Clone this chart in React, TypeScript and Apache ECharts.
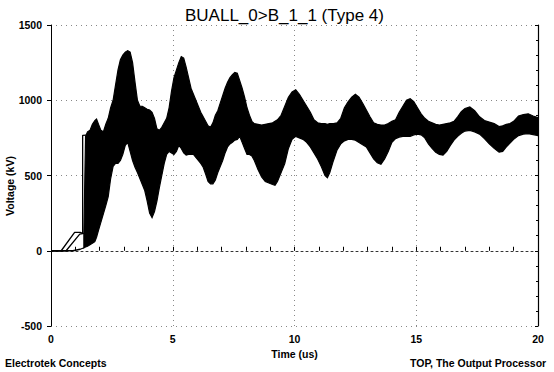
import React, { useEffect, useRef } from "react";
import * as echarts from "echarts";

const FONT = "'Liberation Sans', Arial, Helvetica, sans-serif";

const titleText = "BUALL_0>B_1_1 (Type 4)";
const xName = "Time (us)";
const yName = "Voltage (kV)";
const leftFooter = "Electrotek Concepts";
const rightFooter = "TOP, The Output Processor";

// Envelope of the bundle of overlapping traces
const bandTime = [
  1.35, 1.42, 1.5, 1.6, 1.7, 1.8, 1.87, 1.95, 2.05, 2.15, 2.25, 2.35, 2.45, 2.55, 2.65, 2.75, 2.85, 2.95,
  3.05, 3.15, 3.25, 3.35, 3.45, 3.55, 3.65, 3.75, 3.85, 3.95, 4.05, 4.15, 4.25, 4.35, 4.45, 4.55, 4.65,
  4.75, 4.85, 4.95, 5.05, 5.15, 5.25, 5.35, 5.45, 5.55, 5.65, 5.75, 5.85, 5.95, 6.05, 6.15, 6.25, 6.35,
  6.45, 6.55, 6.65, 6.75, 6.85, 6.95, 7.05, 7.15, 7.25, 7.35, 7.45, 7.55, 7.65, 7.75, 7.85, 7.95, 8.05,
  8.15, 8.25, 8.35, 8.5, 8.65, 8.8, 8.95, 9.1, 9.2, 9.3, 9.45, 9.6, 9.75, 9.9, 10.05, 10.2, 10.35, 10.5,
  10.65, 10.8, 10.95, 11.1, 11.25, 11.35, 11.45, 11.6, 11.75, 11.9, 12.05, 12.2, 12.35, 12.5, 12.65, 12.8,
  12.95, 13.1, 13.25, 13.4, 13.55, 13.7, 13.85, 14.0, 14.15, 14.3, 14.45, 14.6, 14.75, 14.9, 15.05, 15.2,
  15.35, 15.5, 15.65, 15.8, 15.95, 16.1, 16.25, 16.4, 16.55, 16.7, 16.85, 17.0, 17.2, 17.4, 17.6, 17.8,
  18.0, 18.2, 18.4, 18.55, 18.7, 18.85, 19.0, 19.2, 19.4, 19.6, 19.8, 20.0,
];
const bandUpper = [
  115, 760, 790, 800, 840, 865, 875, 840, 800, 790, 840, 880, 950, 1000, 1100, 1200, 1270, 1300,
  1320, 1330, 1320, 1250, 1120, 1000, 960, 960, 950, 940, 935, 920, 880, 810, 800, 820, 850,
  880, 950, 1060, 1150, 1200, 1250, 1290, 1280, 1220, 1150, 1080, 1040, 1000, 960, 920, 890, 860,
  830, 820, 850, 900, 930, 980, 1030, 1080, 1120, 1150, 1170, 1185, 1180, 1130, 1080, 1020, 950,
  900, 860, 845, 840, 835, 840, 845, 850, 860, 870, 900, 960, 1020, 1055, 1070, 1040, 1000, 960,
  920, 870, 850, 845, 845, 840, 845, 845, 850, 880, 950, 990, 1020, 1040, 1020, 980,
  935, 890, 850, 840, 835, 835, 845, 860, 870, 920, 960, 1000, 1010, 990, 950, 910,
  880, 860, 850, 840, 835, 840, 845, 850, 860, 890, 925, 945, 955, 930, 890, 865,
  855, 845, 825, 830, 840, 845, 860, 895, 905, 910, 895, 885,
];
const bandLower = [
  20, 25, 30, 40, 50, 60, 90, 135, 190, 245, 300, 360, 480, 560, 580, 580, 600, 640,
  700, 720, 660, 600, 555, 520, 480, 440, 400, 330, 250, 220, 260, 330, 420, 500, 580,
  640, 660, 650, 640, 660, 700, 680, 650, 635, 640, 640, 640, 620, 600, 580, 555, 510,
  460, 445, 445, 470, 520, 560, 600, 650, 690, 710, 720, 735, 740, 760, 720, 680, 640,
  640, 630, 600, 540, 490, 460, 450, 440, 435, 460, 520, 580, 680, 740, 760, 750, 740, 720,
  690, 650, 610, 560, 500, 485, 520, 600, 670, 710, 730, 740, 740, 735, 720, 705,
  690, 650, 610, 585, 575, 610, 660, 720, 745, 755, 760, 760, 760, 770, 775, 770,
  750, 710, 680, 655, 640, 635, 660, 700, 735, 760, 780, 795, 800, 790, 775, 745,
  710, 680, 655, 660, 690, 715, 740, 765, 775, 778, 772, 765,
];

// Individual early traces before they merge into the bundle
const leadTime = [0, 0.42, 0.97, 1.2, 1.3, 1.3, 1.6];
const leadValue = [0, 0, 122, 122, 115, 767, 770];
const midTime = [0, 0.62, 1.18, 1.36];
const midValue = [0, 0, 110, 115];
const slowTime = [0, 0.9, 1.2, 1.36];
const slowValue = [0, 0, 10, 20];

const toPairs = (t: number[], v: number[]) => t.map((x, i) => [x, v[i]]);

export default function App() {
  const ref = useRef<HTMLDivElement>(null);

  useEffect(() => {
    if (!ref.current) return;
    const chart = echarts.init(ref.current, null, { renderer: "svg" });

    const labelStyle = { color: "#000", fontSize: 10.5, fontWeight: "bold" as const, fontFamily: FONT };
    const gridLine = { show: true, lineStyle: { color: "#888", type: [1, 4] as any, width: 1 } };
    const plain = (v: number) => String(v);

    const lineSeries = (t: number[], v: number[]) => ({
      type: "line",
      data: toPairs(t, v),
      showSymbol: false,
      symbol: "none",
      lineStyle: { color: "#000", width: 1.3 },
      z: 3,
    });

    chart.setOption({
      animation: false,
      backgroundColor: "#fff",
      title: {
        text: titleText,
        left: 180,
        top: 2,
        textStyle: { fontFamily: FONT, fontSize: 17, fontWeight: "normal", color: "#000" },
      },
      grid: { left: 51, right: 16, top: 25, bottom: 46 },
      xAxis: {
        type: "value",
        min: 0,
        max: 20,
        interval: 5,
        axisLine: { show: true, lineStyle: { color: "#333", type: [2, 3] as any, width: 1 } },
        axisTick: { show: true, inside: true, length: 4, lineStyle: { color: "#000" } },
        minorTick: { show: true, splitNumber: 5, length: 4, lineStyle: { color: "#000" } },
        axisLabel: { ...labelStyle, margin: 7, formatter: plain },
        splitLine: gridLine,
        name: xName,
        nameLocation: "middle",
        nameGap: 18,
        nameTextStyle: labelStyle,
      },
      yAxis: [
        {
          type: "value",
          min: -500,
          max: 1500,
          interval: 500,
          position: "left",
          axisLine: { show: true, lineStyle: { color: "#000", width: 1 } },
          axisTick: { show: true, inside: false, length: 4, lineStyle: { color: "#000" } },
          axisLabel: { ...labelStyle, margin: 9, formatter: plain },
          splitLine: gridLine,
        },
        {
          type: "value",
          min: -500,
          max: 1500,
          interval: 500,
          position: "right",
          axisLine: { show: true, lineStyle: { color: "#000", width: 1.2 } },
          axisTick: { show: true, inside: true, length: 3, lineStyle: { color: "#000" } },
          minorTick: { show: true, splitNumber: 5, length: 2, lineStyle: { color: "#000" } },
          axisLabel: { show: false },
          splitLine: { show: false },
        },
      ],
      graphic: [
        {
          type: "text",
          x: 10,
          y: 186,
          rotation: Math.PI / 2,
          style: { text: yName, ...labelStyle, fill: "#000", align: "center", verticalAlign: "middle" },
        },
        {
          type: "text",
          x: 5,
          y: 363,
          style: { text: leftFooter, ...labelStyle, fill: "#000", align: "left", verticalAlign: "middle" },
        },
        {
          type: "text",
          x: 410,
          y: 363,
          style: { text: rightFooter, ...labelStyle, fontSize: 10.5, fill: "#000", align: "left", verticalAlign: "middle" },
        },
      ],
      series: [
        {
          type: "custom",
          data: [[bandTime[0], bandLower[0]]],
          encode: { x: 0, y: 1 },
          clip: true,
          z: 2,
          renderItem: (_params: any, api: any) => {
            const pts: number[][] = [];
            for (let i = 0; i < bandTime.length; i++) pts.push(api.coord([bandTime[i], bandUpper[i]]));
            for (let i = bandTime.length - 1; i >= 0; i--) pts.push(api.coord([bandTime[i], bandLower[i]]));
            return {
              type: "polygon",
              shape: { points: pts },
              style: { fill: "#000", stroke: "#000", lineWidth: 1.2 },
            };
          },
        },
        lineSeries(leadTime, leadValue),
        lineSeries(midTime, midValue),
        lineSeries(slowTime, slowValue),
      ],
    });

    return () => chart.dispose();
  }, []);

  return (
    <div
      ref={ref}
      style={{ position: "absolute", left: 0, top: 0, width: 554, height: 372, background: "#fff" }}
    />
  );
}
